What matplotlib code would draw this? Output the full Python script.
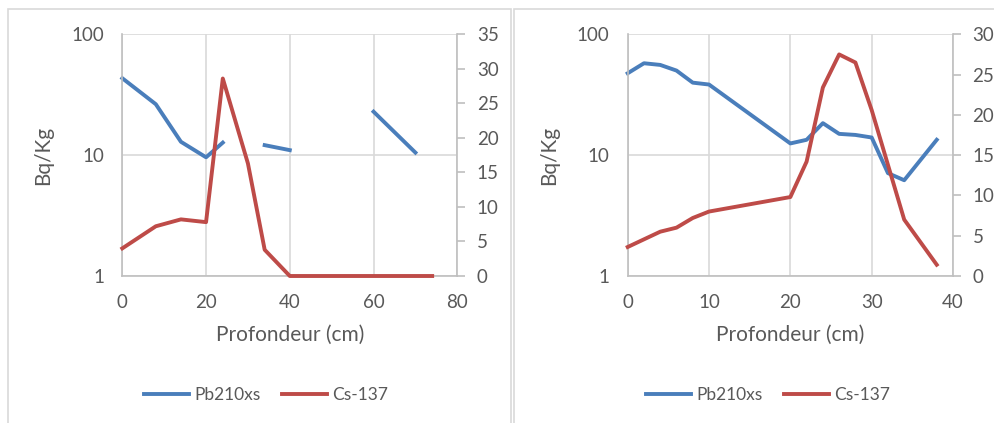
import numpy as np
import matplotlib
matplotlib.use("Agg")
import matplotlib.pyplot as plt
from matplotlib.patches import Rectangle
from matplotlib.ticker import FixedLocator, FixedFormatter, NullLocator

plt.rcParams['font.family'] = ['Lato', 'DejaVu Sans']

# Données
profondeur_gauche = [0, 8, 14, 20, 24, 30, 34, 40, 50, 60, 70, 74]
pb_gauche = [43.3, 26.4, 12.9, 9.6, 12.7, np.nan, 12.1, 11.0, np.nan, 22.9, 10.5, np.nan]
cs_gauche = [4.0, 7.2, 8.2, 7.8, 28.6, 16.3, 3.8, 0, 0, 0, 0, 0]

profondeur_droite = [0, 2, 4, 6, 8, 10, 20, 22, 24, 26, 28, 30, 32, 34, 38]
pb_droite = [47.6, 57.6, 55.8, 50.1, 39.8, 38.4, 12.5, 13.4, 18.4, 15.0, 14.7, 14.0, 7.1, 6.2, 13.4]
cs_droite = [3.6, 4.55, 5.5, 6.0, 7.2, 8.0, 9.8, 14.2, 23.4, 27.5, 26.5, 20.6, 13.8, 7.0, 1.4]

BLEU = "#4A7EBB"
ROUGE = "#BE4B48"
GRIS_TEXTE = "#595959"
GRIS_GRILLE = "#D9D9D9"
GRIS_AXE = "#BFBFBF"
TAILLE = 13.5

W, H = 995, 423
fig = plt.figure(figsize=(W / 100, H / 100), dpi=100)

# cadres des deux graphiques
for x0, x1 in [(8, 511), (514, 1030)]:
    fig.patches.append(Rectangle((x0 / W, -0.1), (x1 - x0) / W, (H - 9) / H + 0.1,
                                 transform=fig.transFigure, fill=False,
                                 edgecolor=GRIS_GRILLE, linewidth=1.2))


def Graphique(pos, x, pb, cs, xmax, xpas, ymax2, legende_x):
    ax = fig.add_axes(pos)
    ax.set_yscale("log")
    ax.set_ylim(1, 100)
    ax.set_xlim(0, xmax)
    ax.yaxis.set_major_locator(FixedLocator([1, 10, 100]))
    ax.yaxis.set_major_formatter(FixedFormatter(["1", "10", "100"]))
    ax.yaxis.set_minor_locator(NullLocator())
    ax.set_xticks(np.arange(0, xmax + 1, xpas))
    ax.grid(True, color=GRIS_GRILLE, linewidth=1.2)
    ax.set_axisbelow(True)
    for cote in ["top", "right"]:
        ax.spines[cote].set_visible(False)
    for cote in ["left", "bottom"]:
        ax.spines[cote].set_color(GRIS_AXE)
        ax.spines[cote].set_linewidth(1.2)
    ax.tick_params(axis="both", length=0, labelsize=TAILLE, labelcolor=GRIS_TEXTE, pad=13)
    ax.set_ylabel("Bq/Kg", fontsize=TAILLE + 1.5, color=GRIS_TEXTE, labelpad=13)
    ax.set_xlabel("Profondeur (cm)", fontsize=TAILLE + 1.5, color=GRIS_TEXTE, labelpad=10)
    l1, = ax.plot(x, pb, color=BLEU, linewidth=2.8, label="Pb210xs", clip_on=False)

    ax2 = ax.twinx()
    ax2.set_ylim(0, ymax2)
    ax2.set_yticks(np.arange(0, ymax2 + 1, 5))
    for cote in ["top", "left", "bottom"]:
        ax2.spines[cote].set_visible(False)
    ax2.spines["right"].set_color(GRIS_AXE)
    ax2.spines["right"].set_linewidth(1.2)
    ax2.tick_params(axis="y", length=6, width=1.2, color=GRIS_AXE,
                    labelsize=TAILLE, labelcolor=GRIS_TEXTE, pad=8)
    l2, = ax2.plot(x, cs, color=ROUGE, linewidth=2.8, label="Cs-137", clip_on=False)

    fig.legend(handles=[l1, l2], loc="center", bbox_to_anchor=(legende_x, (H - 395) / H),
               ncol=2, frameon=False, fontsize=12.5, labelcolor=GRIS_TEXTE,
               handlelength=2.6, handletextpad=0.3, columnspacing=1.2)
    return ax, ax2


Graphique([122.3 / W, (H - 276) / H, 335 / W, 241.7 / H],
          profondeur_gauche, pb_gauche, cs_gauche, 80, 20, 35, 266 / W)
Graphique([627.7 / W, (H - 276) / H, 325.3 / W, 241.7 / H],
          profondeur_droite, pb_droite, cs_droite, 40, 10, 30, 768 / W)

fig.savefig("out.png", dpi=100)
